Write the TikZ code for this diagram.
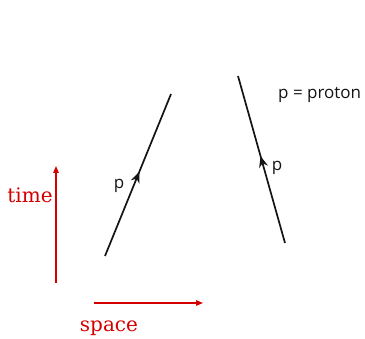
\documentclass[tikz,border=0pt]{standalone}
\usepackage{fontspec}
\setmainfont{DejaVu Serif}
\newfontfamily\labfont{Open Sans}
\usetikzlibrary{arrows.meta,decorations.markings}
\definecolor{axred}{HTML}{D40000}
\definecolor{ink}{HTML}{141414}
\tikzset{
  axis/.style={axred, line width=1.2pt, -{Triangle[length=7pt,width=5.5pt]}},
  axlabel/.style={text=axred, font=\fontsize{20}{20}\selectfont, inner sep=0pt},
  particle/.style={ink, line width=1.7pt,
    postaction={decorate, decoration={markings,
      mark=at position 0.52 with {\arrow{Stealth[length=11pt,width=9pt]}}}}},
  plab/.style={text=ink, font=\labfont\fontsize{17}{17}\selectfont, inner sep=0pt}
}
\begin{document}
\begin{tikzpicture}[x=1pt,y=-1pt]
\useasboundingbox (0,0) rectangle (365,339);
% left proton
\coordinate (l0) at (105,256);
\coordinate (l1) at (171,94);
\draw[particle] (l0) -- (l1);
\node[plab] (pl) at (119,186) {p};
% right proton
\coordinate (r0) at (285,243);
\coordinate (r1) at (238,76);
\draw[particle] (r0) -- (r1);
\node[plab] (pr) at (277,168) {p};
\node[plab, anchor=west] (key) at (278,95) {p = proton};
% axes
\coordinate (t0) at (56,283);
\coordinate (t1) at (56,166);
\draw[axis] (t0) -- (t1);
\node[axlabel] (time) at (30,195) {time};
\coordinate (s0) at (94,303);
\coordinate (s1) at (203,303);
\draw[axis] (s0) -- (s1);
\node[axlabel] (space) at (109,328) {space};
\end{tikzpicture}
\end{document}
